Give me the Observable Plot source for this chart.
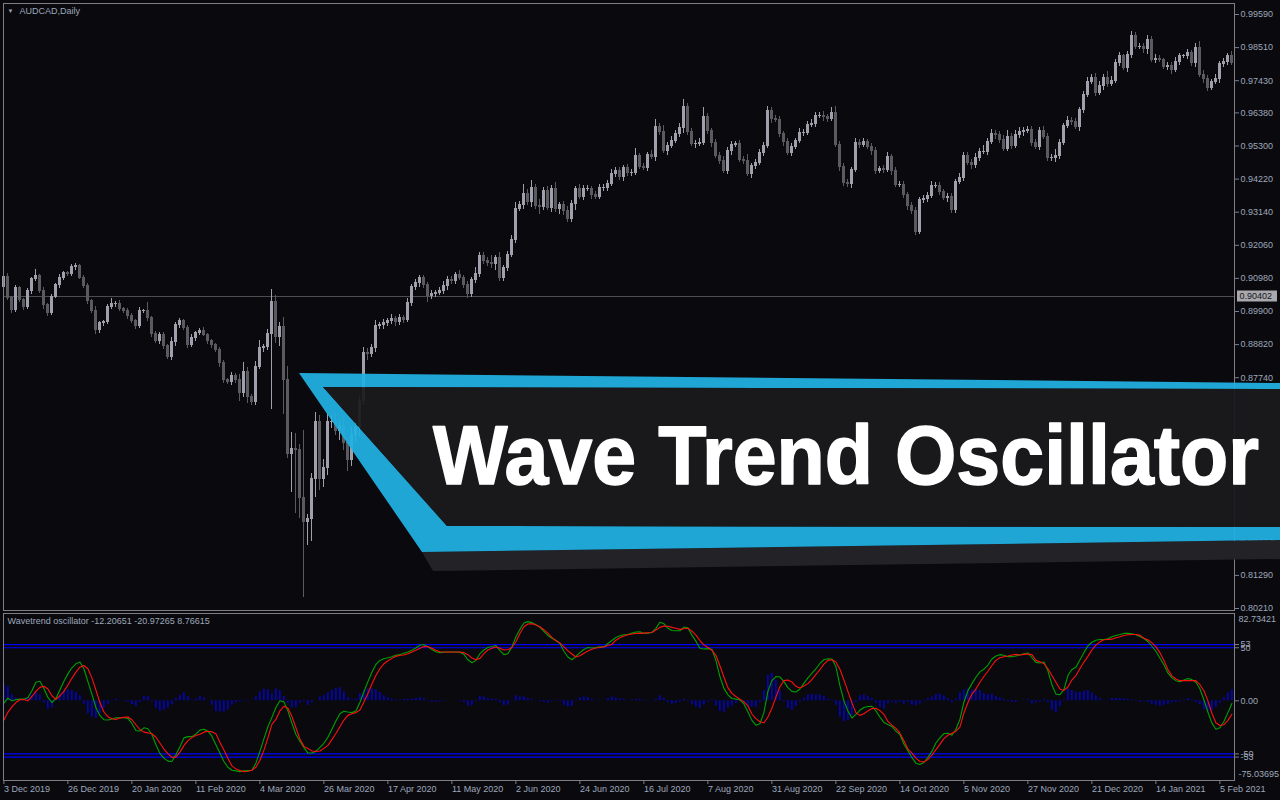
<!DOCTYPE html>
<html><head><meta charset="utf-8">
<script src="https://cdn.jsdelivr.net/npm/d3@7"></script>
<script src="https://cdn.jsdelivr.net/npm/@observablehq/plot@0.6"></script>
<style>
html,body{margin:0;padding:0;background:#0a0a0e;}
#wrap{position:relative;width:1280px;height:800px;overflow:hidden;background:#0a0a0e;font-family:"Liberation Sans",Arial,sans-serif;}
#price,#osc,#banner{position:absolute;left:0;}
#price{top:0}
#osc{top:611px}
#banner{top:0;pointer-events:none}
</style></head><body>
<div id="wrap"><div id="price"></div><div id="osc"></div><svg id="banner" width="1280" height="800"></svg></div>
<script>
// ---------- data ----------
const symbolTitle = "AUDCAD,Daily";
const oscTitle = "Wavetrend oscillator -12.20651 -20.97265 8.76615";
const bannerTitle = "Wave Trend Oscillator";
const firstOpen = 0.9070;
const refLevel = 0.90402;
const closes = [
0.9102,0.9034,0.8994,0.9066,0.9027,0.9004,0.9057,0.9096,0.9106,0.9057,
0.9011,0.8985,0.9037,0.9076,0.9099,0.9115,0.9112,0.9135,0.9138,0.9099,
0.9073,0.9024,0.8991,0.8929,0.8952,0.8955,0.9004,0.9014,0.9014,0.8998,
0.8991,0.8975,0.8958,0.8942,0.8991,0.8991,0.8968,0.8916,0.8893,0.8913,
0.8877,0.8841,0.8890,0.8945,0.8958,0.8936,0.8880,0.8903,0.8919,0.8926,
0.8913,0.8893,0.8880,0.8864,0.8821,0.8766,0.8759,0.8779,0.8766,0.8723,
0.8792,0.8710,0.8694,0.8808,0.8870,0.8873,0.8916,0.9021,0.8906,0.8939,
0.8766,0.8524,0.8543,0.8537,0.8380,0.8304,0.8314,0.8442,0.8631,0.8445,
0.8481,0.8628,0.8631,0.8599,0.8615,0.8560,0.8504,0.8586,0.8609,0.8697,
0.8854,0.8851,0.8870,0.8942,0.8945,0.8952,0.8958,0.8965,0.8955,0.8968,
0.8962,0.9017,0.9070,0.9083,0.9099,0.9076,0.9040,0.9047,0.9050,0.9057,
0.9073,0.9093,0.9089,0.9109,0.9099,0.9076,0.9047,0.9093,0.9112,0.9171,
0.9155,0.9148,0.9145,0.9164,0.9099,0.9132,0.9174,0.9223,0.9325,0.9338,
0.9374,0.9348,0.9393,0.9334,0.9331,0.9384,0.9328,0.9390,0.9325,0.9338,
0.9318,0.9292,0.9341,0.9390,0.9364,0.9390,0.9390,0.9370,0.9364,0.9393,
0.9393,0.9406,0.9439,0.9449,0.9429,0.9459,0.9442,0.9442,0.9498,0.9462,
0.9459,0.9501,0.9495,0.9593,0.9576,0.9514,0.9531,0.9547,0.9570,0.9590,
0.9658,0.9576,0.9537,0.9537,0.9540,0.9626,0.9580,0.9540,0.9498,0.9482,
0.9449,0.9514,0.9534,0.9537,0.9485,0.9482,0.9439,0.9465,0.9475,0.9508,
0.9531,0.9645,0.9619,0.9616,0.9570,0.9544,0.9508,0.9527,0.9547,0.9573,
0.9573,0.9599,0.9603,0.9629,0.9629,0.9626,0.9619,0.9639,0.9534,0.9462,
0.9410,0.9406,0.9452,0.9540,0.9534,0.9544,0.9527,0.9514,0.9449,0.9455,
0.9452,0.9495,0.9449,0.9403,0.9403,0.9370,0.9334,0.9318,0.9249,0.9354,
0.9357,0.9367,0.9400,0.9400,0.9380,0.9361,0.9364,0.9321,0.9413,0.9426,
0.9498,0.9475,0.9469,0.9491,0.9511,0.9511,0.9544,0.9570,0.9567,0.9550,
0.9521,0.9560,0.9531,0.9567,0.9576,0.9580,0.9583,0.9540,0.9527,0.9580,
0.9560,0.9491,0.9491,0.9498,0.9540,0.9596,0.9612,0.9609,0.9593,0.9648,
0.9697,0.9740,0.9753,0.9704,0.9727,0.9753,0.9733,0.9743,0.9802,0.9822,
0.9786,0.9828,0.9890,0.9854,0.9854,0.9845,0.9877,0.9812,0.9815,0.9809,
0.9789,0.9792,0.9779,0.9805,0.9822,0.9822,0.9832,0.9802,0.9851,0.9763,
0.9750,0.9720,0.9740,0.9747,0.9796,0.9805,0.9822,0.9802];
// upper / lower shadow lengths in pips
const wickUp = [
8,12,6,10,5,7,9,6,20,5,10,6,8,7,12,6,5,9,8,6,
7,10,5,14,6,5,9,20,8,12,6,8,10,7,12,6,30,5,8,10,
7,6,15,10,8,6,9,12,7,8,12,6,7,5,10,8,6,12,9,20,
30,15,8,20,25,10,15,40,20,15,30,46,52,50,20,222,15,20,30,20,
25,30,20,25,20,30,15,25,20,15,20,15,12,20,10,12,8,15,10,12,
10,15,8,12,10,8,10,12,8,10,15,12,10,8,15,10,12,8,20,10,
10,12,25,10,20,8,12,15,20,10,30,15,25,10,20,12,15,10,20,8,
10,15,12,8,15,10,10,8,12,10,10,12,15,10,10,8,12,10,25,8,
12,8,15,25,10,20,12,15,10,12,25,10,12,10,15,30,10,8,12,10,
15,10,12,8,10,12,20,8,10,10,12,15,10,12,10,8,12,10,8,15,
10,12,15,10,10,12,8,15,20,12,10,12,8,15,10,12,8,10,12,8,
10,15,8,10,12,10,8,12,10,8,12,10,15,12,10,8,10,12,8,15,
10,12,10,15,12,20,10,15,12,10,15,20,10,12,15,10,12,10,12,10,
15,10,12,20,10,8,15,10,12,8,12,15,10,12,15,10,20,15,10,12,
8,10,15,10,12,10,15,10,12,10,8,12,10,15,10,8,12,10,15,20,
12,10,8,15,10,12,10,15];
const wickDown = [
10,8,12,6,9,10,8,12,7,9,15,10,8,6,12,9,7,8,10,6,
9,12,8,15,10,12,8,6,10,8,9,12,7,10,8,6,10,12,8,10,
12,8,10,15,9,8,12,7,10,8,6,10,12,9,15,10,8,12,10,25,
15,20,10,12,8,15,10,245,20,30,111,14,124,206,65,248,78,75,60,40,
30,25,20,15,30,25,35,20,25,30,15,20,12,15,10,15,12,10,15,10,
12,8,10,12,15,10,20,12,10,8,10,15,12,10,8,12,15,10,12,10,
12,10,15,20,10,12,10,8,12,10,15,12,20,10,25,12,10,15,12,20,
15,10,12,20,10,12,10,15,10,8,12,10,8,12,10,15,12,10,8,10,
10,12,8,15,12,10,15,10,8,12,20,12,10,15,10,8,12,15,10,12,
10,12,15,10,8,12,10,15,12,10,12,8,15,10,12,15,10,12,10,8,
12,10,8,12,10,15,12,8,10,15,12,10,15,10,12,10,8,15,12,10,
12,10,15,8,10,12,15,10,12,8,10,12,8,10,12,10,15,12,10,8,
12,10,15,12,10,8,12,10,15,12,10,8,12,10,12,15,10,12,10,12,
8,12,10,15,12,10,8,12,10,15,12,10,8,12,10,15,12,10,8,12,
10,15,12,10,8,12,15,10,12,8,10,12,15,10,12,8,10,12,15,10,
15,12,10,8,12,10,12,10];
// Wavetrend main line (green) and signal line (red)
const wtMain = [
-2.2,2.5,0,1,1.6,1.6,3.2,9.5,17.5,18.4,
11.7,3.2,-1.6,2.2,10.2,18.4,25.4,31.1,34.9,36.5,
30.2,18.1,6.3,-6.3,-13.7,-17.8,-18.1,-17.1,-15.9,-15.9,
-15.9,-16.5,-21.3,-27.9,-28.6,-25.4,-26.3,-31.7,-41.3,-49.5,
-54,-56.8,-57.1,-50.8,-43.2,-34.9,-33.7,-33.7,-31.1,-27.6,
-26.7,-28.6,-33.3,-41.3,-49.2,-57.1,-62.5,-65.4,-66,-66.7,
-66,-65.7,-65.4,-58.7,-47.6,-35.9,-24.4,-15.6,-6.3,0,
-1,-9.5,-21,-31.7,-38.1,-43.8,-49.2,-49.2,-47.6,-43.8,
-40,-34.3,-26.7,-19,-12.1,-9.8,-10.5,-11.1,-9.5,-1.6,
8.6,18.1,27,34.3,38.1,39.7,40.6,41.6,42.9,43.5,
44.8,46,47.6,49.8,52.4,53,50.8,48.3,46.3,45.4,
45.7,46,46,46,45.7,43.8,38.7,35.9,38.1,44.4,
47.9,50.2,51.1,52.1,47.6,43.5,44.4,50.8,60.3,67.3,
73.3,74.6,73.7,71.7,69.2,65.4,61.6,59,57.1,54,
46.7,41.3,38.7,41.9,45.4,48.3,50.2,49.8,50.2,50.8,
50.8,54,56.8,59.7,61.3,62.2,62.5,63.8,64.8,65.1,
63.5,63.8,64.4,68.3,74,72.7,68.3,66.3,66,66,
69.5,68.9,61.9,56.2,49.5,48.9,49.2,48.6,38.1,22.9,
11.7,5.7,2.2,1.6,1,-2.9,-10.2,-18.4,-22.9,-21.6,
-11.1,8.9,19,22.9,22.5,18.1,12.4,8.9,8.3,11.1,
16.5,21.6,26,30.2,35.2,38.7,39.7,39.4,32.4,14.3,
0,-9.5,-16.2,-12.7,-8.9,-6.3,-5.4,-5.1,-9.5,-15.2,
-20.3,-22.2,-24.1,-28.6,-31.7,-40.6,-47,-53.3,-58.7,-60,
-58.1,-53.3,-47.6,-39.7,-34.9,-30.8,-30.5,-32.4,-27,-17.5,
-1.3,9.5,16.2,22.2,27.3,29.8,33.7,39.4,42.2,43.5,
42.9,41.6,41.6,42.2,43.2,44.4,45.1,40.6,36.2,35.6,
36.5,28.3,15.2,6.3,5.7,10.5,23.8,29.5,31.7,38.4,
45.4,51.7,55.2,57.1,57.8,57.8,58.4,60.3,61.6,62.5,
63.5,63.5,63.2,62.2,60.6,58.7,55.9,51.4,46.7,40.3,
34,26.3,21.6,19,18.1,19.7,21,20,17.5,11.4,
1,-10.5,-21,-26.7,-25.4,-19.4,-11.1,-2.5];
const wtSignal = [
-18.1,-10.8,-5.7,-1.6,1,1.3,0,4.1,8.9,12.7,
13.7,11.1,4.8,1.3,4.8,8.9,14.9,21.3,27,31.7,
33.3,30.2,21.6,10.2,-1.6,-10.5,-14.9,-16.8,-17.5,-16.2,
-15.6,-15.2,-17.8,-22.5,-27,-29.5,-30.2,-30.8,-34.3,-39.7,
-45.4,-49.8,-53.3,-53,-48.3,-42.2,-37.5,-34.6,-32.7,-31.4,
-29.5,-28.6,-29.2,-31.1,-39,-46.3,-54,-61.3,-64.1,-65.7,
-66.7,-66.3,-65.4,-62.5,-55.9,-46.7,-34.9,-22.2,-17.5,-9.5,
-5.1,-7,-14.6,-25.4,-35.9,-42.9,-44.8,-47.3,-47.6,-47.3,
-44.8,-41.9,-36.5,-30.8,-24.4,-18.1,-13.7,-12.1,-11.1,-8.6,
-1,7,15.9,23.8,30.2,34.9,37.8,40,41.9,42.9,
43.2,44.4,46,47.6,49.5,51.1,51.1,49.5,47.6,46.3,
46,46,46,46,46,45.4,43.5,40.3,38.7,40,
44.4,47.9,49.5,50.8,49.5,47.9,48.3,50.2,55.6,63.5,
69.8,72.4,72.7,71.4,69.8,67,63.8,59.7,56.5,54.6,
50.8,47,44.1,41.3,42.5,44.8,47,48.6,49.8,50.2,
50.8,52.1,53.3,57.1,59.4,61,62.2,62.9,63.5,63.5,
63.8,64.1,64.4,66.7,69.2,70.5,70.2,69.2,68.3,67.3,
67.9,68.3,65.7,61.9,56.8,52.7,50.2,47.6,42.9,33,
22.5,12.4,7,4.1,1.6,-1,-4.8,-12.4,-16.8,-19.7,
-20.6,-15.2,-7,3.5,13.3,19,19.7,17.8,13.7,12.1,
14,16.2,20,24.8,29.5,34.6,38.1,38.7,36.5,29.8,
19.7,8.9,-1.9,-11.1,-13.7,-12.1,-9.5,-7.3,-7,-9.2,
-12.7,-19.4,-22.9,-26,-30.5,-37.5,-45.4,-49.2,-54,-57.1,
-57.5,-55.2,-51.1,-46,-41,-35.6,-32.4,-30.5,-28.6,-24.8,
-11.4,-1.6,6.3,11.1,17.5,22.9,27.9,33.3,38.1,40.6,
41.6,42.2,43.2,43.8,43.2,43.8,44.1,43.5,38.1,36.8,
35.2,30.2,23.8,17.5,11.1,9.8,13,19.7,23.8,30.2,
36.5,41.9,47.9,52.4,55.6,57.5,57.8,58.1,59.4,60.3,
61.6,62.2,62.5,62.5,61.9,59,57.5,54.6,50.8,45.4,
38.1,29.5,23.5,20.6,19,19,19,19,19,15.2,
9.5,0,-11.7,-20.6,-23.2,-22.5,-18.4,-12.7];
const dateLabels = ["3 Dec 2019","26 Dec 2019","20 Jan 2020","11 Feb 2020","4 Mar 2020","26 Mar 2020","17 Apr 2020","11 May 2020","2 Jun 2020","24 Jun 2020","16 Jul 2020","7 Aug 2020","31 Aug 2020","22 Sep 2020","14 Oct 2020","5 Nov 2020","27 Nov 2020","21 Dec 2020","14 Jan 2021","5 Feb 2021"];
const dateLabelStep = 16;
// price-axis labels visible in the reference (those under the banner are hidden there)
const priceTicks = [0.99590,0.98510,0.97430,0.96380,0.95300,0.94220,0.93140,0.92060,0.90980,0.89900,0.88820,0.87740,0.82370,0.81290,0.80210];
const priceDomain = [0.80145, 0.99949];
const oscLevels = [53, 50, -50, -53];
const oscTicks = [53, 50, 0, -50, -53];
const oscRange = [-75.03695, 82.73421];

// ---------- build ----------
const FONT = "'Liberation Sans', Arial, sans-serif";
const TXT = "#9ea7ba";
const FRAME = "#7e7e84";
const BULL = "#a0a0ac";
const BEAR = "#5a5a60";
const BLUE = "#0000ff";
const N = closes.length;
const xDomain = [-0.1, N - 0.35];
const candles = closes.map((c, i) => {
  const o = i ? closes[i - 1] : firstOpen;
  const top = Math.max(o, c), bot = Math.min(o, c);
  return {i, open: o, close: c, top, bot, high: top + wickUp[i] / 1e4, low: bot - wickDown[i] / 1e4, bull: c >= o};
});
const bulls = candles.filter(d => d.bull), bears = candles.filter(d => !d.bull);

const price = Plot.plot({
  width: 1280, height: 611, marginLeft: 3, marginRight: 46, marginTop: 3, marginBottom: 1,
  style: {background: "transparent", color: TXT, fontFamily: FONT, fontSize: "9px", overflow: "visible"},
  x: {domain: xDomain, axis: null},
  y: {domain: priceDomain, label: null},
  marks: [
    Plot.ruleY([refLevel], {stroke: "#4c4c52", shapeRendering: "crispEdges"}),
    Plot.ruleX(bears, {x: "i", y1: "low", y2: "high", stroke: BEAR, shapeRendering: "crispEdges"}),
    Plot.ruleX(bulls, {x: "i", y1: "low", y2: "high", stroke: BULL, shapeRendering: "crispEdges"}),
    Plot.ruleX(bears, {x: "i", y1: "top", y2: "bot", stroke: BEAR, strokeWidth: 3, insetTop: -0.5, insetBottom: -0.5, shapeRendering: "crispEdges"}),
    Plot.ruleX(bulls, {x: "i", y1: "top", y2: "bot", stroke: BULL, strokeWidth: 3, insetTop: -0.5, insetBottom: -0.5, shapeRendering: "crispEdges"}),
    Plot.axisY(priceTicks, {anchor: "right", tickSize: 4, tickPadding: 2, tickFormat: d => d.toFixed(5), stroke: FRAME, fill: TXT, fontSize: 9, label: null}),
    // highlighted current-level label: box drawn as a thick rule just outside the frame
    Plot.ruleY([refLevel], {stroke: "#a9a9ad", strokeWidth: 11, insetLeft: 1234, insetRight: -43}),
    Plot.text([refLevel], {y: d => d, frameAnchor: "right", textAnchor: "start", dx: 5, text: d => d.toFixed(5), fill: "#15151a", fontSize: 9}),
    Plot.text(["\u25BC"], {frameAnchor: "top-left", textAnchor: "start", lineAnchor: "middle", dx: 4, dy: 8, fill: TXT, fontSize: 6}),
    Plot.text([symbolTitle], {frameAnchor: "top-left", textAnchor: "start", lineAnchor: "middle", dx: 16, dy: 8, fill: TXT, fontSize: 9}),
    Plot.frame({stroke: FRAME, shapeRendering: "crispEdges"})
  ]
});
document.getElementById("price").appendChild(price);

const osc = wtMain.map((g, i) => ({i, g, r: wtSignal[i], h: g - wtSignal[i]}));
const dateIdx = dateLabels.map((_, k) => k * dateLabelStep);
const labelByIdx = new Map(dateIdx.map((v, k) => [v, dateLabels[k]]));
const oscChart = Plot.plot({
  width: 1280, height: 189, marginLeft: 3, marginRight: 46, marginTop: 1.5, marginBottom: 20,
  style: {background: "transparent", color: TXT, fontFamily: FONT, fontSize: "9px", overflow: "visible"},
  x: {domain: xDomain, label: null},
  y: {domain: oscRange, label: null},
  marks: [
    Plot.ruleX(osc, {x: "i", y1: 0, y2: "h", stroke: BLUE, strokeWidth: 1.2}),
    Plot.ruleY(oscLevels, {stroke: BLUE, strokeWidth: 1.2}),
    Plot.line(osc, {x: "i", y: "g", stroke: "#00a000", strokeWidth: 1.1}),
    Plot.line(osc, {x: "i", y: "r", stroke: "#ff1010", strokeWidth: 1.1}),
    Plot.axisY(oscTicks, {anchor: "right", tickSize: 4, tickPadding: 2, tickFormat: d => d === 0 ? "0.00" : String(d), stroke: FRAME, fill: TXT, fontSize: 9, label: null}),
    Plot.text([oscRange[1]], {y: d => d, frameAnchor: "right", textAnchor: "start", dx: 4, dy: 6, text: d => d.toFixed(5), fill: TXT, fontSize: 9}),
    Plot.text([oscRange[0]], {y: d => d, frameAnchor: "right", textAnchor: "start", dx: 4, dy: -6, text: d => d.toFixed(5), fill: TXT, fontSize: 9}),
    Plot.axisX(dateIdx, {anchor: "bottom", tickSize: 4, tickPadding: 1, tickFormat: d => labelByIdx.get(d), textAnchor: "start", stroke: FRAME, fill: TXT, fontSize: 9, label: null}),
    Plot.text([oscTitle], {frameAnchor: "top-left", textAnchor: "start", lineAnchor: "middle", dx: 4, dy: 8.5, fill: TXT, fontSize: 9}),
    Plot.frame({stroke: FRAME, shapeRendering: "crispEdges"})
  ]
});
document.getElementById("osc").appendChild(oscChart);

// ---------- decorative title banner ----------
const banner = d3.select("#banner");
banner.append("polygon").attr("points", "422,552 1280,540 1280,559 433,571").attr("fill", "#232327");
// blue outline band (outer shape with the inner panel cut out)
banner.append("path")
  .attr("d", "M299,373 L1280,383 L1280,540 L422,552 Z M323,387 L1280,389 L1280,527 L447,526 Z")
  .attr("fill", "#21b0e2").attr("fill-rule", "evenodd").attr("fill-opacity", 0.94);
banner.append("polygon").attr("points", "323,387 1280,389 1280,527 447,526").attr("fill", "#1b1b1e").attr("fill-opacity", 0.94);
banner.append("text").attr("x", 433).attr("y", 484)
  .attr("font-family", "'Liberation Sans', Arial, sans-serif").attr("font-weight", "bold").attr("font-size", 84)
  .attr("fill", "#ffffff").attr("stroke", "#ffffff").attr("stroke-width", 1.5).attr("stroke-linejoin", "round")
  .attr("textLength", 826).attr("lengthAdjust", "spacingAndGlyphs")
  .text(bannerTitle);
</script></body></html>
